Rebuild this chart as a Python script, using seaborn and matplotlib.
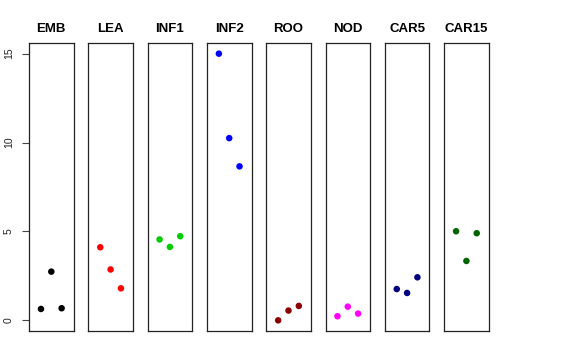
import matplotlib
matplotlib.use("Agg")
import matplotlib.pyplot as plt
import seaborn as sns
import pandas as pd

tissues = ["EMB", "LEA", "INF1", "INF2", "ROO", "NOD", "CAR5", "CAR15"]
colors = ["#000000", "#FF0000", "#00CD00", "#0000FF", "#8B0000", "#FF00FF", "#000080", "#006400"]
replicate = [1, 2, 3]
emb = [0.64, 2.74, 0.68]
lea = [4.11, 2.86, 1.80]
inf1 = [4.55, 4.13, 4.73]
inf2 = [15.0, 10.25, 8.66]
roo = [0.0, 0.55, 0.81]
nod = [0.23, 0.77, 0.38]
car5 = [1.76, 1.54, 2.42]
car15 = [5.01, 3.34, 4.90]
values = [emb, lea, inf1, inf2, roo, nod, car5, car15]
y_ticks = [0, 5, 10, 15]

sns.set_style("white")
plt.rcParams["font.family"] = ["Liberation Sans", "DejaVu Sans"]

W, H = 576, 360
fig = plt.figure(figsize=(W / 100, H / 100), dpi=100)

left0, step, width = 29.0, 59.3, 44.6
top, bottom = 43.0, 331.0
all_vals = [v for vs in values for v in vs]
ymin, ymax = min(all_vals), max(all_vals)
pad = 0.04 * (ymax - ymin)

for i, (name, col, vals) in enumerate(zip(tissues, colors, values)):
    x0 = left0 + i * step
    ax = fig.add_axes([x0 / W, (H - bottom) / H, width / W, (bottom - top) / H])
    df = pd.DataFrame({"rep": replicate, "val": vals})
    sns.scatterplot(data=df, x="rep", y="val", color=col, s=22, edgecolor="none", ax=ax)
    ax.set_xlim(-0.16, 4.16)
    ax.set_ylim(ymin - pad, ymax + pad)
    ax.set_xlabel("")
    ax.set_ylabel("")
    ax.set_xticks([])
    for sp in ax.spines.values():
        sp.set_visible(True)
        sp.set_color("#222222")
        sp.set_linewidth(0.9)
    ax.set_title(name, fontsize=9.5, fontweight="bold", pad=8, color="black")
    if i == 0:
        ax.set_yticks(y_ticks)
        ax.set_yticklabels([str(t) for t in y_ticks], rotation=90, va="center", fontsize=7.5, color="#222222")
        ax.tick_params(axis="y", left=True, length=5, width=0.8, color="#444444", pad=6)
    else:
        ax.set_yticks([])

fig.savefig("out.png", dpi=100)
